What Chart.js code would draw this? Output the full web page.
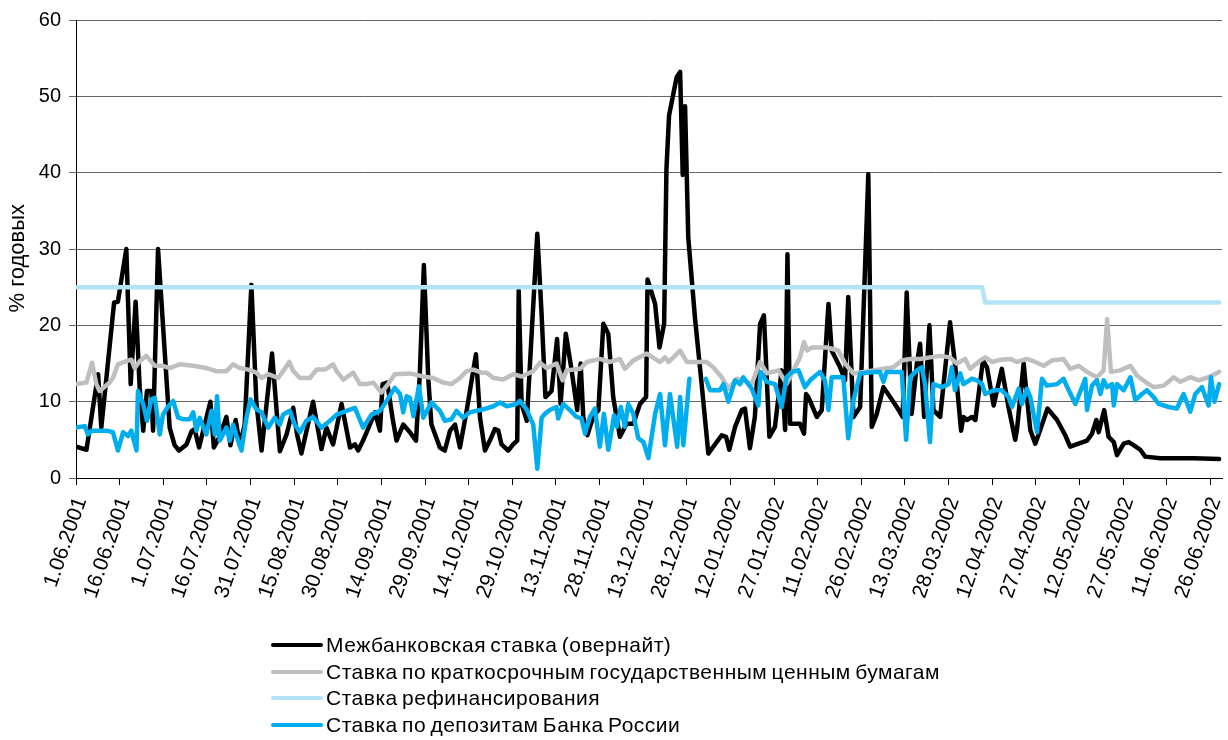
<!DOCTYPE html>
<html>
<head>
<meta charset="utf-8">
<script src="https://cdn.jsdelivr.net/npm/chart.js@4.4.1/dist/chart.umd.min.js"></script>
<style>
  html, body { margin: 0; padding: 0; background: #fff; }
  #wrap { position: relative; width: 1228px; height: 740px; }
  #chart { position: absolute; left: 0; top: 0; }
  #legend { position: absolute; left: 271px; top: 632px; font-family: "Liberation Sans", Arial, sans-serif; font-size: 21px; letter-spacing: 0.5px; word-spacing: -2px; color: #000; }
  #legend .row { display: flex; align-items: center; height: 26.5px; white-space: nowrap; }
  #legend .swatch { display: inline-block; width: 52px; height: 4px; border-radius: 2px; margin-right: 3px; }
</style>
</head>
<body>
<div id="wrap">
  <canvas id="chart" width="1228" height="740"></canvas>
  <div id="legend"></div>
</div>
<script>
// day 0 = 1.06.2001
const xTickLabels = ['1.06.2001', '16.06.2001', '1.07.2001', '16.07.2001', '31.07.2001', '15.08.2001', '30.08.2001',
  '14.09.2001', '29.09.2001', '14.10.2001', '29.10.2001', '13.11.2001', '28.11.2001', '13.12.2001', '28.12.2001',
  '12.01.2002', '27.01.2002', '11.02.2002', '26.02.2002', '13.03.2002', '28.03.2002', '12.04.2002', '27.04.2002',
  '12.05.2002', '27.05.2002', '11.06.2002', '26.06.2002'];

const seriesNames = ['Межбанковская ставка (овернайт)', 'Ставка по краткосрочным государственным ценным бумагам',
  'Ставка рефинансирования', 'Ставка по депозитам Банка России'];

// межбанковская ставка (овернайт)
const overnightDays = [0, 3.6, 7.6, 8.7, 13.1, 14.4, 17.3, 18.8, 20.5, 21.9, 23.1, 24.4, 25.9, 26.5, 28.2, 32.2, 33.9, 35.4,
  38, 39.7, 40.8, 42.3, 46.2, 47.4, 49.2, 51.7, 53.1, 54.9, 56.3, 58, 60.3, 62, 63.8, 67.4, 70.1, 72.4, 74.7, 76, 77.5,
  81.5, 84.4, 86.1, 88.4, 91.3, 94.2, 95.9, 97, 98.7, 102.8, 104.5, 105.4, 107, 108.8, 110.2, 112.5, 114.8, 116.9, 118.2,
  119.6, 121.1, 122.2, 125.1, 126.8, 128.6, 130.3, 132, 134.3, 137.5, 138.9, 140.6, 142.3, 144, 145.2, 146.3, 148.6, 150.3,
  151.7, 152.2, 153.2, 155, 156.7, 158.6, 160, 161.4, 163.5, 165.4, 166.6, 168.4, 170.4, 172.3, 173.5, 174.4, 175.8, 177.8,
  179.6, 181.3, 183, 184.7, 187, 189.3, 191.6, 193.9, 196, 196.5, 199.1, 200.6, 202.2, 203, 203.9, 206.5, 207.7, 208.6,
  209.4, 210.5, 212.8, 215.1, 217.4, 219.1, 222, 223.5, 224.6, 226.6, 228.9, 230, 231.7, 233.4, 235.2, 236.5, 238.4, 240.3,
  242.6, 243.8, 244.6, 245.5, 248.9, 250.3, 251, 251.8, 254.7, 256.4, 258.7, 259.8, 262.7, 264.4, 265.5, 267.3, 269.6,
  272.4, 273.6, 275.3, 277.6, 279.9, 282.2, 284.2, 285.6, 287.3, 289.1, 290.2, 291.6, 293.4, 294.8, 297.1, 300.5, 302.2,
  304.3, 305.1, 306.3, 308, 309.2, 311.8, 313.2, 315.5, 318.3, 320.6, 322.9, 323.5, 325.8, 326.7, 328.1, 329.8, 331.5, 334,
  337.3, 340.1, 341.8, 344.7, 347.6, 349.3, 350.8, 351.6, 353.5, 355, 356.8, 357.9, 360.2, 361.9, 363.6, 365.9, 367.6,
  372.8, 384.3, 393];
const overnightRates = [4.1, 3.7, 13.6, 6.6, 23.0, 23.1, 30.0, 12.3, 23.1, 11.8, 6.2, 11.4, 11.4, 6.2, 30.0, 6.6, 4.3, 3.6,
  4.4, 6.1, 6.4, 4.0, 10.0, 4.0, 5.3, 8.0, 4.3, 7.6, 4.3, 7.0, 25.3, 10.0, 3.6, 16.3, 3.5, 5.7, 9.2, 5.7, 3.2,
  10.0, 3.8, 6.6, 4.4, 9.7, 4.0, 4.4, 3.6, 4.9, 8.6, 6.2, 12.3, 12.5, 7.9, 4.9, 7.0, 6.0, 4.9, 13.6,
  27.9, 13.1, 7.0, 4.0, 3.6, 6.2, 7.0, 4.0, 8.8, 16.2, 7.9, 3.6, 4.9, 6.4, 6.2, 4.4, 3.6, 4.4,
  4.9, 24.6, 9.7, 7.5, 19.2, 32.0, 22, 10.6, 11.4, 18.2, 9.7, 18.9, 14.1, 8.9, 15.0, 8.0, 5.6, 8.0,
  8.9, 20.2, 18.9, 10.6, 5.4, 7.1, 7.1, 9.7, 10.6, 26.0, 22.8, 17.1, 20.2, 40.5, 47.5, 52.5, 53.2, 39.7,
  48.7, 31.5, 21.0, 12.3, 3.2, 4.1, 5.6, 5.4, 3.7, 6.7, 8.9, 9.1, 3.9, 8.0, 20.2, 21.3, 5.4, 6.7,
  14.1, 6.3, 29.3, 7.1, 7.1, 5.8, 11.0, 10.6, 8.0, 8.9, 22.8, 16.7, 14.5, 12.8, 23.7, 8.0, 9.3,
  39.8, 6.7, 8.4, 11.9, 10.6, 9.3, 8.0, 24.3, 8.4, 15.0, 17.6, 8.0, 20.0, 8.9, 8.0, 20.4, 15.0,
  6.2, 8.0, 7.6, 8.0, 7.6, 15.4, 14.5, 9.5, 14.3, 9.3, 5.0, 6.3, 15.0, 11.5, 6.3, 4.5, 6.3, 9.1,
  7.6, 5.6, 4.1, 4.5, 4.9, 5.8, 7.6, 6.0, 8.9, 5.4, 4.7, 3.0, 4.5, 4.7, 4.3, 3.7, 2.8,
  2.6, 2.6, 2.5];

// ставка по краткосрочным государственным ценным бумагам
const bondDays = [0, 3.6, 5.5, 7, 8.1, 11.6, 12.7, 14.4, 17.3, 19, 20.2, 21.9, 24.2, 27.1, 29.9, 32.2, 35.7, 40.3, 44.8,
  48.3, 51.7, 54, 56.3, 59.2, 62, 63.8, 66.1, 69.5, 71.2, 73.3, 74.7, 77, 80.4, 82.7, 85.6, 88.4, 89.6, 91.9, 95.3, 97.6,
  99.9, 102.2, 105, 107.3, 109.6, 114.8, 119.4, 122.8, 126.3, 129.1, 132, 134.3, 136.6, 139.5, 141.2, 143.5, 146.9, 150.3,
  153.2, 157.2, 159.5, 161.8, 165.2, 167.3, 168.7, 173.3, 175.6, 180.1, 183.6, 187, 188.7, 191.6, 196.2, 199.1, 200.8,
  202.5, 203.7, 205.4, 207.7, 210, 212.3, 216.8, 219.1, 222, 224.3, 227.2, 229.4, 232.3, 235.2, 237.5, 241.5, 244.3, 247.2,
  248.9, 250.3, 251.4, 252.9, 258.1, 262.1, 264.4, 267.3, 270.7, 274.2, 277.6, 281, 283.9, 286.8, 290.2, 293.6, 297.1,
  300.5, 302.8, 305.7, 307.4, 310.9, 312.6, 314.9, 317.8, 321.2, 323.5, 326.9, 329.8, 332.7, 335.5, 339.5, 341.8, 344.7,
  347.6, 351, 353.3, 354.5, 355.8, 359, 362.5, 364.8, 367.6, 370.5, 374, 377.4, 379.7, 383.1, 386, 389.4, 393];
const bondRates = [12.3, 12.5, 15.1, 12.3, 11.4, 12.5, 13.1, 14.9, 15.3, 15.5, 14.4, 15.3, 16.0, 14.7, 14.7, 14.4, 14.9, 14.7, 14.4,
  14.0, 14.0, 14.9, 14.4, 14.2, 13.8, 13.1, 13.6, 13.1, 14.0, 15.2, 14.0, 13.1, 13.1, 14.2, 14.2, 14.9, 14.0, 12.9, 13.8, 12.3,
  12.3, 12.5, 11.2, 12.3, 13.6, 13.7, 13.3, 13.1, 12.5, 12.3, 13.1, 14.0, 14.2, 13.8, 13.8, 13.1, 12.9, 13.6,
  13.3, 14.0, 15.1, 14.4, 15.0, 12.8, 14.1, 14.3, 15.2, 15.6, 15.2, 15.6, 14.3, 15.4, 16.3, 15.6, 15.2,
  15.8, 15.2, 15.8, 16.7, 15.2, 15.2, 15.2, 14.5, 13.2, 11.7, 13.0, 12.8, 12.3, 15.2, 13.7, 14.1, 12.3, 14.5,
  15.8, 17.8, 16.7, 17.1, 17.1, 16.7, 15.0, 13.7, 13.9, 14.1, 14.3, 14.5, 15.4, 15.6, 15.6, 15.8, 16.0,
  15.8, 15.0, 15.6, 14.3, 15.4, 15.8, 15.2, 15.5, 15.6, 15.2, 15.6, 15.2, 14.7, 15.4, 15.6, 14.3, 14.7,
  13.9, 13.2, 14.1, 20.8, 13.9, 14.1, 14.7, 13.4, 12.6, 11.9, 12.1, 13.2, 12.6, 13.2, 12.8, 13.2, 13.9];

// ставка рефинансирования
const refiDays = [0, 311.5, 312.6, 393];
const refiRates = [25, 25, 23, 23];

// ставка по депозитам Банка России (нет данных 29.12.2001 - 6.01.2002)
const depositDays = [0, 3, 4.1, 5.3, 7, 10.4, 12.7, 14.4, 16.2, 17.9, 19, 20.8, 21.3, 23.1, 24.4, 25.9, 27.1, 28.8, 29.9,
  31.7, 33.4, 35.1, 36.8, 39.1, 40.3, 41.4, 42.5, 44.8, 46.6, 47.7, 48.5, 49.4, 51.7, 52.9, 54, 55.2, 56.9, 58.6, 60, 62,
  63.8, 66.1, 68.3, 70.1, 71.2, 73.5, 75.2, 77, 79.2, 81.5, 84.4, 87.3, 89.6, 93, 95.9, 98.7, 101.6, 104.5, 106.8, 109.6,
  111.4, 112.5, 113.7, 114.8, 116, 117.9, 119.4, 122.2, 125.1, 126.8, 129.1, 130.8, 133.1, 135.4, 140, 143.5, 145.8, 148.1,
  151.5, 152.6, 154.9, 157.2, 158.6, 160.1, 161.2, 162.9, 165.2, 165.8, 167.5, 169.8, 172.1, 173.8, 175, 176.7, 178.4,
  180.1, 181.5, 183, 185, 185.9, 187.3, 188.7, 189.9, 191.6, 193.3, 195.1, 196.8, 199.1, 200.8, 202.5, 204.2, 206.7,
  207.7, 208.8, 210.9, 213.5, 216.5, 218, 221.4, 222.6, 224.3, 226.6, 228.3, 229.4, 232.3, 234.6, 235.4, 237.5, 240.3,
  242.6, 244.3, 246.1, 248.4, 250.6, 252.4, 255.8, 257.5, 258.7, 259.8, 263.8, 265.5, 267.3, 269.6, 274.2, 276.4, 277.6,
  278.7, 283.9, 285.4, 286.8, 289.1, 290.8, 291.9, 293.6, 294.8, 297.7, 300, 301.1, 302.2, 304, 305.1, 308, 309.7, 311.5,
  312.6, 315.5, 318.3, 320.6, 321.8, 324.1, 325.2, 326.9, 328.1, 330.4, 332.1, 333.8, 337.3, 339.5, 341.3, 343.6, 347,
  347.6, 349.3, 351, 352.2, 353.3, 354.5, 356.2, 356.8, 357.9, 360.2, 362.5, 364.2, 366.5, 368.2, 370.5, 372.2, 375.7,
  378.5, 380.8, 383.1, 384.8, 387.1, 389.4, 390.2, 391.4, 393];
const depositRates = [6.6, 6.8, 5.7, 6.2, 6.2, 6.2, 6.0, 3.6, 6.0, 5.5, 6.2, 3.6, 11.4, 9.7, 7.5, 10.3, 10.5, 5.7, 8.3,
  9.4, 10.1, 7.9, 7.7, 7.7, 8.6, 6.2, 7.9, 5.7, 8.8, 5.7, 10.7, 4.9, 6.6, 4.9, 7.0, 5.5, 3.6, 7.9, 10.3, 9.0,
  8.6, 6.6, 7.9, 7.0, 8.3, 8.8, 7.0, 6.0, 7.5, 8.0, 6.6, 7.5, 8.3, 8.8, 9.2, 6.6, 8.3, 8.8, 10.1, 11.8,
  11.0, 8.6, 10.7, 10.5, 8.1, 12.0, 7.9, 9.9, 8.8, 7.5, 7.7, 8.8, 7.9, 8.6, 9.0, 9.4, 9.9, 9.4,
  9.7, 10.1, 9.0, 7.0, 1.2, 7.9, 8.4, 8.9, 9.3, 7.8, 9.7, 8.9, 8.0, 7.8, 5.8, 8.0, 9.1,
  4.1, 8.4, 3.7, 8.2, 6.7, 9.3, 6.7, 9.7, 8.4, 5.2, 4.7, 2.6, 8.4, 11.0, 4.3, 11.0, 4.1,
  10.6, 4.3, 13.0, null, 13.0, 11.5, 11.5, 12.3, 10.0, 12.8, 12.3, 13.2, 11.7, 9.5, 13.9, 12.6, 12.3,
  9.3, 13.2, 13.9, 14.1, 11.9, 12.8, 13.9, 12.8, 8.9, 13.2, 13.2, 5.2, 10.2, 13.7, 13.9, 13.9, 12.6,
  13.9, 13.9, 5.0, 13.2, 14.1, 14.5, 12.3, 4.7, 12.3, 11.9, 12.3, 14.5, 11.5, 13.7, 12.3, 13.0, 12.8, 12.3,
  11.0, 11.5, 11.5, 10.6, 9.3, 11.7, 9.7, 11.7, 10.6, 6.0, 13.0, 12.1, 12.3, 13.0, 11.5, 9.7, 13.0,
  8.9, 12.1, 12.8, 11.0, 12.8, 11.9, 12.3, 9.5, 12.3, 11.5, 13.2, 10.2, 11.0, 11.5, 10.6, 9.7, 9.3,
  9.1, 11.0, 8.7, 11.0, 11.9, 9.5, 13.2, 10.0, 12.3];

const xTickDays = xTickLabels.map((_, i) => i * 15);
const toPoints = (days, rates) => days.map((d, i) => ({ x: d, y: rates[i] }));

const htmlLegendPlugin = {
  id: 'htmlLegend',
  afterUpdate(chart) {
    const box = document.getElementById('legend');
    box.innerHTML = '';
    chart.data.datasets.forEach(function (ds) {
      const row = document.createElement('div');
      row.className = 'row';
      const sw = document.createElement('span');
      sw.className = 'swatch';
      sw.style.background = ds.borderColor;
      const txt = document.createElement('span');
      txt.textContent = ds.label;
      row.appendChild(sw);
      row.appendChild(txt);
      box.appendChild(row);
    });
  }
};

const font = 'Liberation Sans, Arial, sans-serif';

new Chart(document.getElementById('chart'), {
  type: 'line',
  data: {
    datasets: [
      { label: seriesNames[0], data: toPoints(overnightDays, overnightRates), borderColor: '#000000', order: 4 },
      { label: seriesNames[1], data: toPoints(bondDays, bondRates), borderColor: '#bfbfbf', order: 3 },
      { label: seriesNames[2], data: toPoints(refiDays, refiRates), borderColor: '#b3e3f7', order: 2 },
      { label: seriesNames[3], data: toPoints(depositDays, depositRates), borderColor: '#00aeef', order: 1 }
    ]
  },
  options: {
    responsive: false,
    animation: false,
    devicePixelRatio: 1,
    layout: { padding: { top: 18, right: 6, left: 0, bottom: 0 } },
    elements: {
      point: { radius: 0 },
      line: { borderWidth: 4.5, tension: 0, borderJoinStyle: 'round', borderCapStyle: 'round' }
    },
    scales: {
      x: {
        type: 'linear',
        min: 0,
        max: 394,
        afterBuildTicks: function (scale) {
          scale.ticks = xTickDays.map(v => ({ value: v }));
        },
        afterFit: function (scale) {
          scale.height = 262;
          scale.paddingLeft = 0;
          scale.paddingRight = 0;
        },
        ticks: {
          autoSkip: false,
          minRotation: 71,
          maxRotation: 71,
          padding: 9,
          labelOffset: 5,
          color: '#000',
          font: { family: font, size: 21 },
          callback: function (value) {
            const i = xTickDays.indexOf(value);
            return i >= 0 ? xTickLabels[i] : '';
          }
        },
        grid: { drawOnChartArea: false, drawTicks: true, tickLength: 7, color: '#000' },
        border: { color: '#000', width: 1 }
      },
      y: {
        min: 0,
        max: 60,
        afterFit: function (scale) { scale.width = 76; },
        ticks: { stepSize: 10, padding: 8, color: '#000', font: { family: font, size: 20 } },
        grid: { color: '#666', tickLength: 7 },
        border: { color: '#000', width: 1 },
        title: {
          display: true,
          text: '% годовых   ',
          color: '#000',
          padding: { top: 5, bottom: 0 },
          font: { family: font, size: 22 }
        }
      }
    },
    plugins: {
      legend: { display: false },
      tooltip: { enabled: false }
    }
  },
  plugins: [htmlLegendPlugin]
});
</script>
</body>
</html>
